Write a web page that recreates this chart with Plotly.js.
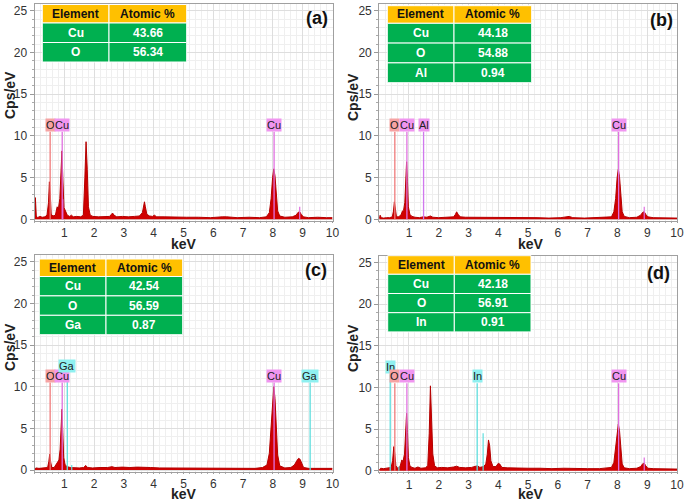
<!DOCTYPE html>
<html><head><meta charset="utf-8">
<script src="https://cdn.plot.ly/plotly-3.0.1.min.js"></script>
<style>html,body{margin:0;padding:0;background:#fff}#chart{width:685px;height:501px}</style>
</head><body><div id="chart"></div>
<script>
// ---------- DATA ----------
// Panel (a)
const energyA = [0.00,0.03,0.06,0.10,0.18,0.26,0.35,0.42,0.47,0.50,0.53,0.56,0.62,0.70,0.76,0.80,0.85,0.89,0.92,0.95,0.99,1.04,1.10,1.18,1.24,1.30,1.42,1.55,1.64,1.69,1.73,1.77,1.81,1.87,1.96,2.15,2.35,2.52,2.58,2.62,2.67,2.76,2.95,3.15,3.35,3.52,3.62,3.66,3.69,3.72,3.77,3.86,3.96,4.02,4.10,4.35,4.70,5.10,5.50,5.90,6.30,6.45,6.80,7.20,7.55,7.78,7.88,7.94,7.99,8.03,8.07,8.11,8.16,8.23,8.40,8.65,8.78,8.85,8.90,8.95,9.02,9.20,9.50,9.80,10.0];
const countsA = [0.1,2.6,0.4,0.2,0.35,0.25,0.3,0.5,2.0,4.5,3.0,0.6,0.4,0.5,1.5,1.2,2.5,6.5,8.2,5.0,1.4,1.0,0.5,0.35,0.5,0.3,0.35,0.3,0.5,5.0,9.3,6.0,1.5,0.5,0.35,0.3,0.3,0.35,0.6,0.75,0.5,0.3,0.35,0.3,0.35,0.4,0.8,1.6,2.1,1.5,0.6,0.4,0.35,0.5,0.3,0.3,0.25,0.25,0.25,0.2,0.3,0.3,0.2,0.25,0.2,0.3,0.8,2.5,5.0,6.05,5.2,2.8,1.0,0.4,0.25,0.3,0.5,0.85,0.9,0.6,0.3,0.2,0.25,0.2,0.2];
const lineElemA = ['O','Cu','Cu'];
const lineEnergyA = [0.525,0.93,8.04];
const lineTopA = [10.5,10.5,10.5];
const minorEnergyA = [0.95,8.9];
const minorTopA = [2.4,1.5];
const minorElemA = ['Cu','Cu'];
const tableElemA = ['Cu','O'];
const tableAtomicA = ['43.66','56.34'];

// Panel (b)
const energyB = [0.00,0.03,0.07,0.15,0.25,0.35,0.44,0.48,0.51,0.54,0.58,0.66,0.74,0.78,0.82,0.86,0.89,0.92,0.95,0.98,1.03,1.10,1.20,1.35,1.48,1.60,1.72,1.80,2.00,2.30,2.50,2.56,2.60,2.65,2.72,2.90,3.20,3.50,3.80,4.10,4.50,4.90,5.30,5.70,6.10,6.38,6.50,6.90,7.30,7.60,7.80,7.88,7.94,7.99,8.03,8.07,8.11,8.16,8.23,8.40,8.65,8.78,8.85,8.90,8.95,9.02,9.20,9.50,9.80,10.0];
const countsB = [0.1,0.5,0.2,0.15,0.2,0.2,0.3,1.0,2.1,1.0,0.3,0.3,0.6,1.0,1.1,2.0,5.0,6.9,4.5,1.5,0.6,0.35,0.25,0.2,0.3,0.25,0.4,0.25,0.2,0.25,0.3,0.6,0.9,0.6,0.3,0.25,0.25,0.2,0.25,0.2,0.2,0.2,0.2,0.15,0.2,0.35,0.2,0.15,0.2,0.2,0.3,0.9,2.5,5.0,6.0,5.1,2.6,0.9,0.35,0.2,0.25,0.5,0.85,0.9,0.6,0.3,0.2,0.2,0.15,0.15];
const lineElemB = ['O','Cu','Al','Cu'];
const lineEnergyB = [0.525,0.93,1.49,8.04];
const lineTopB = [10.5,10.5,10.5,10.5];
const minorEnergyB = [8.9];
const minorTopB = [1.5];
const minorElemB = ['Cu'];
const tableElemB = ['Cu','O','Al'];
const tableAtomicB = ['44.18','54.88','0.94'];

// Panel (c)
const energyC = [0.00,0.05,0.15,0.25,0.35,0.44,0.48,0.51,0.54,0.58,0.66,0.74,0.78,0.82,0.86,0.89,0.92,0.95,0.98,1.03,1.10,1.20,1.35,1.50,1.65,1.72,1.78,1.95,2.20,2.45,2.60,2.70,2.95,3.20,3.45,3.70,3.90,4.20,4.60,5.00,5.40,5.80,6.20,6.60,7.00,7.40,7.65,7.80,7.88,7.94,7.99,8.03,8.07,8.11,8.16,8.23,8.40,8.60,8.72,8.80,8.86,8.91,8.96,9.03,9.20,9.50,9.80,10.0];
const countsC = [0.1,0.25,0.2,0.25,0.3,0.3,1.0,1.9,1.0,0.3,0.3,0.7,0.9,1.2,2.5,5.5,7.3,4.5,1.5,0.6,0.4,0.3,0.25,0.25,0.3,0.55,0.3,0.25,0.3,0.3,0.4,0.3,0.35,0.3,0.35,0.35,0.3,0.25,0.25,0.25,0.2,0.25,0.2,0.2,0.2,0.2,0.3,0.6,2.0,5.5,8.8,10.0,8.6,5.0,1.8,0.5,0.25,0.3,0.6,1.1,1.4,1.3,0.8,0.3,0.2,0.2,0.2,0.2];
const lineElemC = ['O','Cu','Ga','Cu','Ga'];
const lineEnergyC = [0.525,0.93,1.10,8.04,9.25];
const lineTopC = [10.5,10.5,11.7,10.5,10.5];
const minorEnergyC = [1.25];
const minorTopC = [0.6];
const minorElemC = ['Ga'];
const tableElemC = ['Cu','O','Ga'];
const tableAtomicC = ['42.54','56.59','0.87'];

// Panel (d)
const energyD = [0.00,0.05,0.15,0.25,0.33,0.40,0.45,0.49,0.52,0.56,0.62,0.70,0.76,0.80,0.85,0.89,0.92,0.95,0.98,1.03,1.10,1.20,1.30,1.40,1.55,1.63,1.68,1.72,1.76,1.80,1.86,1.95,2.10,2.30,2.50,2.60,2.70,2.90,3.10,3.25,3.30,3.38,3.50,3.58,3.63,3.67,3.71,3.75,3.82,3.92,4.00,4.05,4.12,4.30,4.60,5.00,5.40,5.80,6.20,6.60,7.00,7.40,7.65,7.80,7.88,7.94,7.99,8.03,8.07,8.11,8.16,8.23,8.40,8.65,8.78,8.85,8.90,8.95,9.02,9.20,9.50,9.80,10.0];
const countsD = [0.1,0.3,0.25,0.3,0.3,0.4,1.2,2.9,2.2,0.6,0.3,0.5,1.3,1.1,2.0,5.0,6.9,4.6,1.6,0.6,0.4,0.3,0.45,0.3,0.35,0.6,4.5,10.2,7.0,2.0,0.6,0.35,0.4,0.35,0.45,0.55,0.4,0.35,0.4,0.5,0.6,0.4,0.5,0.8,2.0,3.7,3.0,1.2,0.5,0.5,0.9,0.8,0.4,0.35,0.3,0.3,0.3,0.25,0.3,0.25,0.25,0.25,0.3,0.4,1.0,2.8,4.8,5.6,4.8,2.4,0.8,0.35,0.25,0.3,0.5,0.85,0.9,0.6,0.3,0.25,0.25,0.2,0.2];
const lineElemD = ['In','O','Cu','In','Cu'];
const lineEnergyD = [0.37,0.525,0.93,3.29,8.04];
const lineTopD = [11.6,10.5,10.5,10.5,10.5];
const minorEnergyD = [3.49,8.9,0.66];
const minorTopD = [4.5,1.6,0.5];
const minorElemD = ['In','Cu','In'];
const tableElemD = ['Cu','O','In'];
const tableAtomicD = ['42.18','56.91','0.91'];

const xTickVals = [1,2,3,4,5,6,7,8,9,10];
const panelLabels = ['(a)','(b)','(c)','(d)'];

// ---------- STYLE / LAYOUT ----------
const W = 685, H = 501;
const FONT = 'Liberation Sans, Arial, sans-serif';
const px = v => v / W, py = v => 1 - v / H;
const lineColor = {O:'#f07a7a', Cu:'#e070e0', Al:'#d078ee', Ga:'#5fdede', In:'#5fdede'};
const labelBg = {O:'#f6a3a3', Cu:'#f095f0', Al:'#ee95f0', Ga:'#8ff0f0', In:'#8ff0f0'};

const panels = [
  {e:energyA,c:countsA,le:lineElemA,lx:lineEnergyA,lt:lineTopA,me:minorElemA,mx:minorEnergyA,mt:minorTopA,te:tableElemA,ta:tableAtomicA,
   xpx:[34.5,332.5], ypx:[221,4], tbl:{l:42.3,d:109,r:186.7,t:4.5,hb:23,rh:19.5}, lab:[317,18], ytitle:[10,95], xtitle:[184,244]},
  {e:energyB,c:countsB,le:lineElemB,lx:lineEnergyB,lt:lineTopB,me:minorElemB,mx:minorEnergyB,mt:minorTopB,te:tableElemB,ta:tableAtomicB,
   xpx:[379.2,677], ypx:[221,4], tbl:{l:387.3,d:454,r:531.7,t:5.7,hb:23.3,rh:19.8}, lab:[661,20], ytitle:[353,97], xtitle:[531,244]},
  {e:energyC,c:countsC,le:lineElemC,lx:lineEnergyC,lt:lineTopC,me:minorElemC,mx:minorEnergyC,mt:minorTopC,te:tableElemC,ta:tableAtomicC,
   xpx:[34.5,332.5], ypx:[471.7,255], tbl:{l:39.3,d:106,r:182.7,t:259,hb:276.5,rh:19.4}, lab:[316,270], ytitle:[10,347], xtitle:[184,494]},
  {e:energyD,c:countsD,le:lineElemD,lx:lineEnergyD,lt:lineTopD,me:minorElemD,mx:minorEnergyD,mt:minorTopD,te:tableElemD,ta:tableAtomicD,
   xpx:[379.2,677], ypx:[472.4,256], tbl:{l:387.7,d:454.3,r:531,t:255.7,hb:274.3,rh:19.2}, lab:[658,273], ytitle:[353,348], xtitle:[531,494]}
];

const traces = [], shapes = [], annotations = [];
const layout = {width:W, height:H, margin:{l:0,r:0,t:0,b:0}, paper_bgcolor:'#fff', plot_bgcolor:'#fff',
  showlegend:false, font:{family:FONT, color:'#333'}};

panels.forEach((p, i) => {
  const n = i === 0 ? '' : String(i + 1);
  const xa = 'x' + n, ya = 'y' + n;
  layout['xaxis' + n] = {
    domain:[px(p.xpx[0]), px(p.xpx[1])], anchor:ya, range:[0,10],
    tickmode:'array', tickvals:xTickVals, ticks:'outside', ticklen:1, tickcolor:'#999',
    showline:true, linecolor:'#a0a0a0', linewidth:1, mirror:true,
    showgrid:true, gridcolor:'#dedede', zeroline:false,
    minor:{tickmode:'linear', tick0:0, dtick:0.2, showgrid:true, gridcolor:'#efefef', ticks:'outside', ticklen:1, tickcolor:'#aaa'},
    tickfont:{family:FONT, size:12, color:'#333'}, fixedrange:true
  };
  layout['yaxis' + n] = {
    domain:[py(p.ypx[0]), py(p.ypx[1])], anchor:xa, range:[-0.2,25.8],
    tickmode:'linear', tick0:0, dtick:5, ticks:'outside', ticklen:4, tickcolor:'#999',
    showline:true, linecolor:'#a0a0a0', linewidth:1, mirror:true,
    showgrid:true, gridcolor:'#dedede', zeroline:false,
    minor:{tickmode:'linear', tick0:0, dtick:1, showgrid:true, gridcolor:'#efefef', ticks:'outside', ticklen:2, tickcolor:'#aaa'},
    tickfont:{family:FONT, size:12, color:'#333'}, fixedrange:true
  };
  traces.push({type:'scatter', mode:'lines', x:p.e, y:p.c, xaxis:xa, yaxis:ya,
    fill:'tozeroy', fillcolor:'#d00000', line:{color:'#b40000', width:1}, hoverinfo:'skip'});
  p.lx.forEach((e, k) => {
    const el = p.le[k];
    traces.push({type:'scatter', mode:'lines', x:[e,e], y:[0,p.lt[k]], xaxis:xa, yaxis:ya,
      line:{color:lineColor[el], width:1.3}, hoverinfo:'skip'});
    annotations.push({xref:xa, yref:ya, x:e, y:p.lt[k], yanchor:'bottom', xanchor:'center',
      text:el, showarrow:false, bgcolor:labelBg[el], borderpad:0,
      font:{family:FONT, size:11, color:'#222'}});
  });
  p.mx.forEach((e, k) => {
    traces.push({type:'scatter', mode:'lines', x:[e,e], y:[0,p.mt[k]], xaxis:xa, yaxis:ya,
      line:{color:lineColor[p.me[k]], width:1.2}, hoverinfo:'skip'});
  });
  const t = p.tbl;
  const cell = (x0,x1,y0,y1,fill) => shapes.push({type:'rect', xref:'paper', yref:'paper',
    x0:px(x0), x1:px(x1), y0:py(y1), y1:py(y0), fillcolor:fill, line:{color:'#ffffff', width:1}, layer:'above'});
  const txt = (x,y,s,col) => annotations.push({xref:'paper', yref:'paper', x:px(x), y:py(y),
    xanchor:'center', yanchor:'middle', text:'<b>'+s+'</b>', showarrow:false,
    font:{family:FONT, size:12, color:col}});
  cell(t.l, t.d, t.t, t.hb, '#FFC000'); cell(t.d, t.r, t.t, t.hb, '#FFC000');
  txt((t.l+t.d)/2, (t.t+t.hb)/2, 'Element', '#111'); txt((t.d+t.r)/2, (t.t+t.hb)/2, 'Atomic %', '#111');
  p.te.forEach((el, k) => {
    const y0 = t.hb + k*t.rh, y1 = y0 + t.rh;
    cell(t.l, t.d, y0, y1, '#00B050'); cell(t.d, t.r, y0, y1, '#00B050');
    txt((t.l+t.d)/2, (y0+y1)/2, el, '#fff'); txt((t.d+t.r)/2, (y0+y1)/2, p.ta[k], '#fff');
  });
  annotations.push({xref:'paper', yref:'paper', x:px(p.lab[0]), y:py(p.lab[1]), xanchor:'center', yanchor:'middle',
    text:'<b>'+panelLabels[i]+'</b>', showarrow:false, font:{family:FONT, size:18, color:'#111'}});
  annotations.push({xref:'paper', yref:'paper', x:px(p.ytitle[0]), y:py(p.ytitle[1]), xanchor:'center', yanchor:'middle',
    text:'<b>Cps/eV</b>', textangle:-90, showarrow:false, font:{family:FONT, size:14, color:'#222'}});
  annotations.push({xref:'paper', yref:'paper', x:px(p.xtitle[0]), y:py(p.xtitle[1]), xanchor:'center', yanchor:'middle',
    text:'<b>keV</b>', showarrow:false, font:{family:FONT, size:14, color:'#222'}});
});

layout.shapes = shapes;
layout.annotations = annotations;
Plotly.newPlot('chart', traces, layout, {staticPlot:true, displayModeBar:false});
</script></body></html>
